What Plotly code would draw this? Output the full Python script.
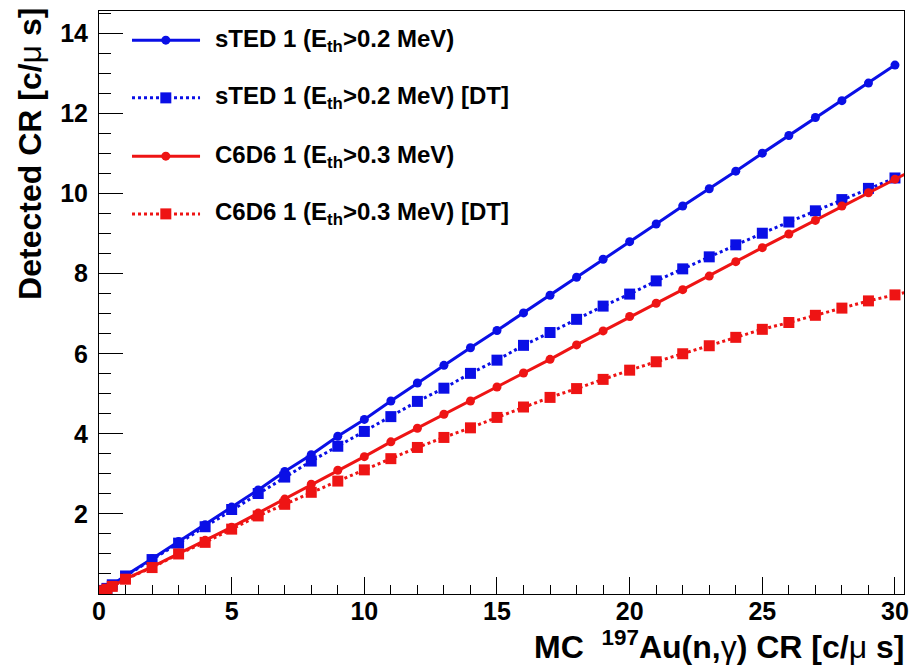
import plotly.graph_objects as go

# Monte Carlo 197Au(n,g) count rate [c/us]
mc_cr = [0.05, 0.1, 0.2, 0.3, 0.5, 1, 2, 3, 4, 5, 6, 7, 8, 9, 10, 11, 12, 13, 14, 15,
         16, 17, 18, 19, 20, 21, 22, 23, 24, 25, 26, 27, 28, 29, 30]
mc_cr_c6d6 = mc_cr + [31]

# Detected count rates [c/us]
sted_cr = [0.02, 0.05, 0.09, 0.14, 0.23, 0.46, 0.88, 1.31, 1.73, 2.17, 2.60, 3.06, 3.48,
           3.94, 4.36, 4.82, 5.27, 5.71, 6.15, 6.58, 7.02, 7.46, 7.91, 8.36, 8.80, 9.24,
           9.69, 10.12, 10.56, 11.01, 11.45, 11.90, 12.32, 12.76, 13.21]
sted_dt_cr = [0.02, 0.05, 0.09, 0.14, 0.23, 0.45, 0.86, 1.27, 1.68, 2.11, 2.51, 2.92,
              3.32, 3.69, 4.06, 4.43, 4.81, 5.14, 5.51, 5.84, 6.21, 6.53, 6.86, 7.19,
              7.49, 7.82, 8.12, 8.42, 8.72, 9.01, 9.29, 9.57, 9.85, 10.13, 10.39]
c6d6_cr = [0.02, 0.04, 0.08, 0.12, 0.20, 0.38, 0.68, 1.02, 1.34, 1.67, 2.02, 2.37, 2.74,
           3.09, 3.43, 3.80, 4.14, 4.49, 4.82, 5.17, 5.52, 5.86, 6.22, 6.57, 6.93, 7.26,
           7.60, 7.94, 8.30, 8.65, 8.99, 9.33, 9.69, 10.02, 10.36, 10.70]
c6d6_dt_cr = [0.02, 0.04, 0.08, 0.12, 0.19, 0.37, 0.66, 1.00, 1.29, 1.62, 1.95, 2.24,
              2.54, 2.82, 3.10, 3.38, 3.66, 3.91, 4.15, 4.41, 4.67, 4.91, 5.13, 5.36,
              5.59, 5.80, 6.00, 6.20, 6.41, 6.61, 6.78, 6.96, 7.14, 7.32, 7.47, 7.63]

x_ticks = [0, 5, 10, 15, 20, 25, 30]
y_ticks = [2, 4, 6, 8, 10, 12, 14]

labels = [
    "sTED 1 (E<sub>th</sub>&gt;0.2 MeV)",
    "sTED 1 (E<sub>th</sub>&gt;0.2 MeV) [DT]",
    "C6D6 1 (E<sub>th</sub>&gt;0.3 MeV)",
    "C6D6 1 (E<sub>th</sub>&gt;0.3 MeV) [DT]",
]

BLUE = "#0a0fe6"
RED = "#ee1414"
FONT = "Liberation Sans"

series = [
    (mc_cr, sted_cr, BLUE, "solid", "circle", 9),
    (mc_cr, sted_dt_cr, BLUE, "dot", "square", 11),
    (mc_cr_c6d6, c6d6_cr, RED, "solid", "circle", 9),
    (mc_cr_c6d6, c6d6_dt_cr, RED, "dot", "square", 11),
]

fig = go.Figure()
for (xs, ys, col, dash, sym, msize), name in zip(series, labels):
    fig.add_trace(go.Scatter(
        x=xs, y=ys, mode="lines+markers", name=name, showlegend=False,
        line=dict(color=col, width=3, dash=dash),
        marker=dict(color=col, symbol=sym, size=msize),
    ))

# Hand-drawn legend box (line sample, marker, label)
leg_y = [0.950, 0.851, 0.751, 0.652]
shapes = []
annotations = []
for (xs, ys, col, dash, sym, msize), name, yy in zip(series, labels, leg_y):
    shapes.append(dict(type="line", xref="paper", yref="paper",
                       x0=0.041, x1=0.1255, y0=yy, y1=yy,
                       line=dict(color=col, width=3, dash=dash)))
    half = msize / 2
    shapes.append(dict(type="circle" if sym == "circle" else "rect",
                       xref="paper", yref="paper",
                       xsizemode="pixel", ysizemode="pixel",
                       xanchor=0.083, yanchor=yy,
                       x0=-half, x1=half, y0=-half, y1=half,
                       fillcolor=col, line=dict(color=col, width=0)))
    annotations.append(dict(xref="paper", yref="paper", x=0.141, y=yy,
                            xanchor="left", yanchor="middle", showarrow=False,
                            text=name,
                            font=dict(family=FONT, size=24, color="black", weight="bold")))

# Axis titles
annotations.append(dict(
    xref="paper", yref="paper", x=1.002, y=-0.126, xanchor="right", yanchor="bottom",
    showarrow=False,
    text="MC  <sup>197</sup>Au(n,<span style='font-weight:normal'>γ</span>) CR "
         "[c/<span style='font-weight:normal'>μ</span> s]",
    font=dict(family=FONT, size=32, color="black", weight="bold")))
annotations.append(dict(
    xref="paper", yref="paper", x=-0.085, y=1.008, xanchor="center", yanchor="top",
    showarrow=False, textangle=-90,
    text="Detected CR [c/<span style='font-weight:normal'>μ</span> s]",
    font=dict(family=FONT, size=32, color="black", weight="bold")))

tick_font = dict(family=FONT, size=25, color="black", weight="bold")

fig.update_layout(
    width=922, height=670,
    margin=dict(l=99, r=18, t=11, b=76),
    paper_bgcolor="white", plot_bgcolor="white",
    shapes=shapes, annotations=annotations,
    showlegend=False,
)
fig.update_xaxes(
    range=[0, 30.34], tickmode="array", tickvals=x_ticks,
    ticktext=[str(v) for v in x_ticks],
    ticks="inside", ticklen=17, tickwidth=1, tickcolor="black",
    minor=dict(tickmode="linear", tick0=0, dtick=1, ticks="inside",
               ticklen=9, tickwidth=1, tickcolor="black"),
    showline=True, linecolor="black", linewidth=1, mirror=True,
    showgrid=False, zeroline=False, tickfont=tick_font, ticklabelstandoff=-5,
)
fig.update_yaxes(
    range=[0, 14.56], tickmode="array", tickvals=y_ticks,
    ticktext=[str(v) for v in y_ticks],
    ticks="inside", ticklen=24, tickwidth=1, tickcolor="black",
    minor=dict(tickmode="linear", tick0=0, dtick=0.5, ticks="inside",
               ticklen=12, tickwidth=1, tickcolor="black"),
    showline=True, linecolor="black", linewidth=1, mirror=True,
    showgrid=False, zeroline=False, tickfont=tick_font, ticklabelstandoff=5,
)

fig.write_html("out.html")
